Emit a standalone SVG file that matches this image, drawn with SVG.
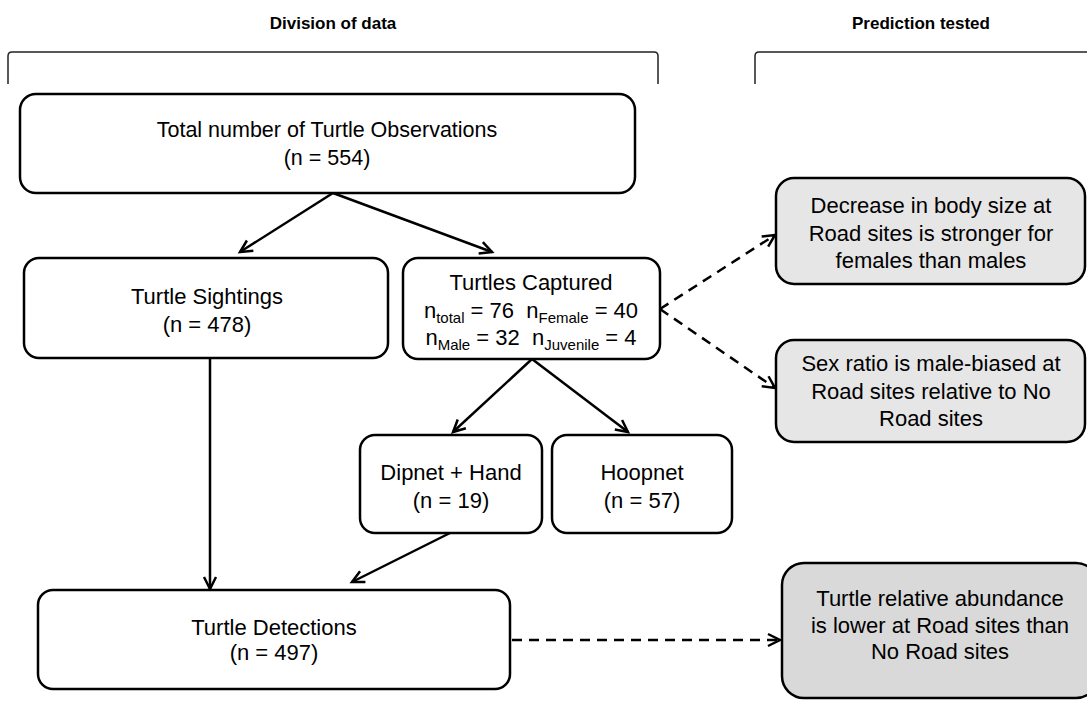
<svg xmlns="http://www.w3.org/2000/svg" width="1087" height="701" viewBox="0 0 1087 701">
<defs>
<style>
.hdr{font-family:"Liberation Sans",Arial,sans-serif;font-weight:bold;font-size:17px;fill:#000;text-anchor:middle}
.t{font-family:"Liberation Sans",Arial,sans-serif;font-size:22px;fill:#000;text-anchor:middle;white-space:pre}
.box{fill:#fff;stroke:#000;stroke-width:2.5}
.pbox{fill:#e6e6e6;stroke:#000;stroke-width:2.5}
.pbox3{fill:#d9d9d9;stroke:#000;stroke-width:2.5}
.br{fill:none;stroke:#222;stroke-width:1.5}
.c{fill:none;stroke:#000;stroke-width:2.5;marker-end:url(#ah)}
.d{stroke-dasharray:10 7}
</style>
<marker id="ah" markerUnits="userSpaceOnUse" markerWidth="16" markerHeight="16" refX="13" refY="7" orient="auto" overflow="visible">
<path d="M1,1 L13,7 L1,13" fill="none" stroke="#000" stroke-width="2.5"/>
</marker>
</defs>
<g id="headers">
<text class="hdr" x="333" y="29">Division of data</text>
<text class="hdr" x="921" y="29">Prediction tested</text>
<path class="br" d="M8,84 L8,56 Q8,52 12,52 L654,52 Q658,52 658,56 L658,84"/>
<path class="br" d="M755,84 L755,56 Q755,52 759,52 L1090,52"/>
</g>
<g id="connectors">
<line class="c" x1="333" y1="193" x2="240" y2="252"/>
<line class="c" x1="333" y1="193" x2="492" y2="252"/>
<line class="c" x1="532" y1="359" x2="453" y2="432"/>
<line class="c" x1="532" y1="359" x2="628" y2="432"/>
<line class="c" x1="210" y1="358" x2="210" y2="589"/>
<line class="c" x1="450" y1="533" x2="352" y2="582"/>
<line class="c d" x1="660" y1="309" x2="775" y2="235"/>
<line class="c d" x1="660" y1="309" x2="775" y2="388"/>
<line class="c d" x1="512" y1="640" x2="780" y2="640"/>
</g>
<g id="total">
<rect class="box" x="20" y="94" width="615" height="99" rx="16"/>
<text class="t" x="327" y="137" style="font-size:21.5px">Total number of Turtle Observations</text>
<text class="t" x="327" y="165" style="font-size:21.5px">(n = 554)</text>
</g>
<g id="sightings">
<rect class="box" x="24" y="258" width="364" height="100" rx="15"/>
<text class="t" x="207" y="304">Turtle Sightings</text>
<text class="t" x="207" y="332">(n = 478)</text>
</g>
<g id="captured">
<rect class="box" x="403" y="258" width="257" height="101" rx="15"/>
<text class="t" x="531" y="290">Turtles Captured</text>
<text class="t" x="531" y="318">n<tspan dy="5" font-size="15">total</tspan><tspan dy="-5"> = 76  n</tspan><tspan dy="5" font-size="15">Female</tspan><tspan dy="-5"> = 40</tspan></text>
<text class="t" x="531" y="345">n<tspan dy="5" font-size="15">Male</tspan><tspan dy="-5"> = 32  n</tspan><tspan dy="5" font-size="15">Juvenile</tspan><tspan dy="-5"> = 4</tspan></text>
</g>
<g id="dipnet">
<rect class="box" x="360" y="435" width="182" height="98" rx="15"/>
<text class="t" x="451" y="480">Dipnet + Hand</text>
<text class="t" x="451" y="508">(n = 19)</text>
</g>
<g id="hoopnet">
<rect class="box" x="552" y="435" width="180" height="98" rx="15"/>
<text class="t" x="642" y="480">Hoopnet</text>
<text class="t" x="642" y="508">(n = 57)</text>
</g>
<g id="detections">
<rect class="box" x="38" y="590" width="472" height="99" rx="15"/>
<text class="t" x="274" y="635">Turtle Detections</text>
<text class="t" x="274" y="660">(n = 497)</text>
</g>
<g id="pred1">
<rect class="pbox" x="776" y="178" width="309" height="106" rx="18"/>
<text class="t" x="931" y="213">Decrease in body size at</text>
<text class="t" x="931" y="241">Road sites is stronger for</text>
<text class="t" x="931" y="268">females than males</text>
</g>
<g id="pred2">
<rect class="pbox" x="776" y="340" width="309" height="102" rx="18"/>
<text class="t" x="931" y="371">Sex ratio is male-biased at</text>
<text class="t" x="931" y="399">Road sites relative to No</text>
<text class="t" x="931" y="426">Road sites</text>
</g>
<g id="pred3">
<rect class="pbox3" x="782" y="563" width="316" height="135" rx="22"/>
<text class="t" x="940" y="606">Turtle relative abundance</text>
<text class="t" x="940" y="633">is lower at Road sites than</text>
<text class="t" x="940" y="659">No Road sites</text>
</g>
</svg>
